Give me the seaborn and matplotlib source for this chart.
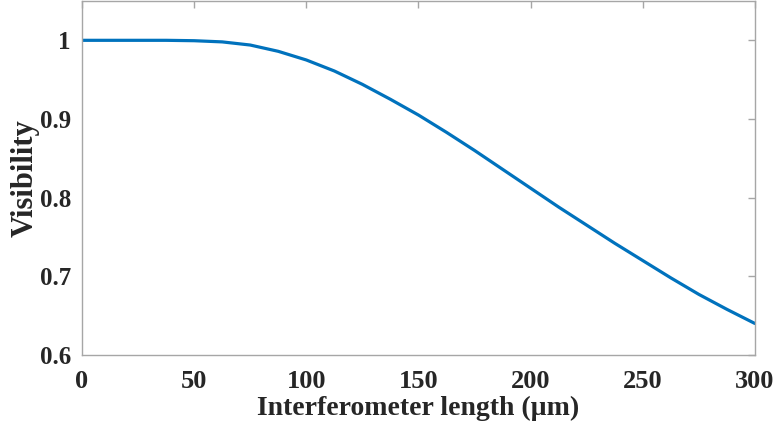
import numpy as np
import pandas as pd
import matplotlib
matplotlib.use("Agg")
import matplotlib.pyplot as plt
import seaborn as sns

# Interferometer length (µm) and fringe visibility
length_um = [0, 12.5, 25, 37.5, 50, 62.5, 75, 87.5, 100, 112.5, 125, 137.5,
             150, 162.5, 175, 187.5, 200, 212.5, 225, 237.5, 250, 262.5,
             275, 287.5, 300]
visibility = [1.000, 1.000, 1.000, 1.000, 0.9995, 0.998, 0.994, 0.986, 0.975,
              0.961, 0.944, 0.925, 0.905, 0.883, 0.860, 0.836, 0.812, 0.788,
              0.765, 0.742, 0.720, 0.698, 0.677, 0.658, 0.640]

x_ticks = [0, 50, 100, 150, 200, 250, 300]
y_ticks = [0.6, 0.7, 0.8, 0.9, 1.0]
y_tick_labels = ["0.6", "0.7", "0.8", "0.9", "1"]

sns.set_style("white")
plt.rcParams["font.family"] = ["Liberation Serif", "DejaVu Serif"]
plt.rcParams["font.weight"] = "bold"

df = pd.DataFrame({"length": length_um, "visibility": visibility})

fig = plt.figure(figsize=(7.78, 4.28), dpi=100)
ax = fig.add_axes([0.1054, 0.1706, 0.8650, 0.8271])

sns.lineplot(data=df, x="length", y="visibility", ax=ax,
             color="#0072BD", linewidth=2.3)

ax.set_xlim(0, 300)
ax.set_ylim(0.6, 1.05)
ax.set_xticks(x_ticks)
ax.set_yticks(y_ticks)
ax.set_yticklabels(y_tick_labels)

frame_color = "#a6a6a6"
for side in ax.spines.values():
    side.set_visible(True)
    side.set_color(frame_color)
    side.set_linewidth(1.0)

ax.tick_params(direction="in", length=5, width=1.0, color=frame_color,
               top=True, right=True, labelcolor="#262626")
ax.tick_params(axis="x", pad=11, labelsize=19)
ax.tick_params(axis="y", pad=8, labelsize=18)
for lbl in ax.get_xticklabels() + ax.get_yticklabels():
    lbl.set_fontweight("bold")

ax.set_xlabel("Interferometer length (µm)", fontsize=20, fontweight="bold",
              color="#262626", labelpad=2)
ax.set_ylabel("Visibility", fontsize=22, fontweight="bold",
              color="#262626", labelpad=0)

fig.savefig("out.png", dpi=100)
